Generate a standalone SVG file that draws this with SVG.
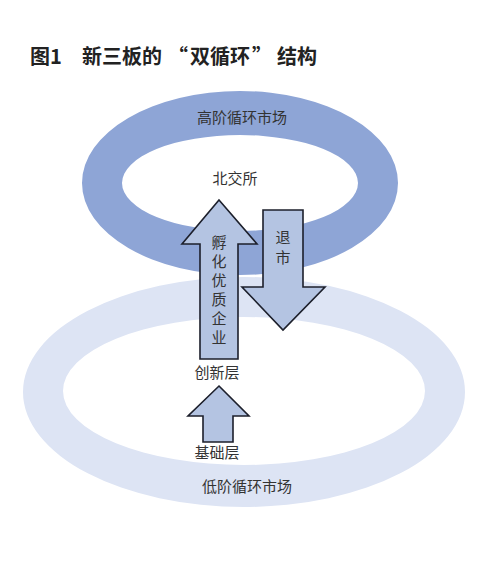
<svg xmlns="http://www.w3.org/2000/svg" width="500" height="561" viewBox="0 0 500 561">
<defs>
<style>
.t{font-family:"Noto Sans CJK SC","Noto Sans",sans-serif;fill:#333;}
.lbl{font-size:15px;text-anchor:middle;}
.ttl{font-size:20px;font-weight:bold;fill:#222;}
.arr{fill:#b4c4e2;stroke:#1c1f2b;stroke-width:1.6;stroke-linejoin:miter;}
</style>
</defs>
<rect width="500" height="561" fill="#ffffff"/>
<g id="title">
<text class="t ttl" x="30" y="64">图1</text>
<text class="t ttl" y="64"><tspan x="82">新三板的</tspan><tspan x="168">“</tspan><tspan x="190">双循环</tspan><tspan x="252">”</tspan><tspan x="277">结构</tspan></text>
</g>
<g id="high-market">
<path d="M82,183 a158,92 0 1,0 316,0 a158,92 0 1,0 -316,0 Z M122,183 a118,48 0 1,1 236,0 a118,48 0 1,1 -236,0 Z" fill="#8ea5d6" fill-rule="evenodd"/>
<text class="t lbl" x="242" y="123">高阶循环市场</text>
<text class="t lbl" x="235" y="184">北交所</text>
</g>
<g id="low-market">
<path d="M23,392 a221,115 0 1,0 442,0 a221,115 0 1,0 -442,0 Z M63,391 a181,74 0 1,1 362,0 a181,74 0 1,1 -362,0 Z" fill="#dde4f4" fill-rule="evenodd"/>
<text class="t lbl" x="247" y="492">低阶循环市场</text>
</g>
<g id="connectors">
<g id="up-arrow">
<polygon class="arr" points="219,200 257,244 238,244 238,359 200,359 200,244 182,244"/>
<text class="t lbl" x="219" y="248">孵</text>
<text class="t lbl" x="219" y="267">化</text>
<text class="t lbl" x="219" y="286">优</text>
<text class="t lbl" x="219" y="305">质</text>
<text class="t lbl" x="219" y="324">企</text>
<text class="t lbl" x="219" y="343">业</text>
</g>
<g id="down-arrow">
<polygon class="arr" points="263,210 303,210 303,287 325,287 283,330 242,287 263,287"/>
<text class="t lbl" x="283" y="243">退</text>
<text class="t lbl" x="283" y="263">市</text>
</g>
<g id="small-up-arrow">
<polygon class="arr" points="219,386 249,416 233,416 233,442 203,442 203,416 188,416"/>
</g>
</g>
<g id="innovation">
<text class="t lbl" x="217" y="378">创新层</text>
</g>
<g id="base">
<text class="t lbl" x="217" y="458">基础层</text>
</g>
</svg>
